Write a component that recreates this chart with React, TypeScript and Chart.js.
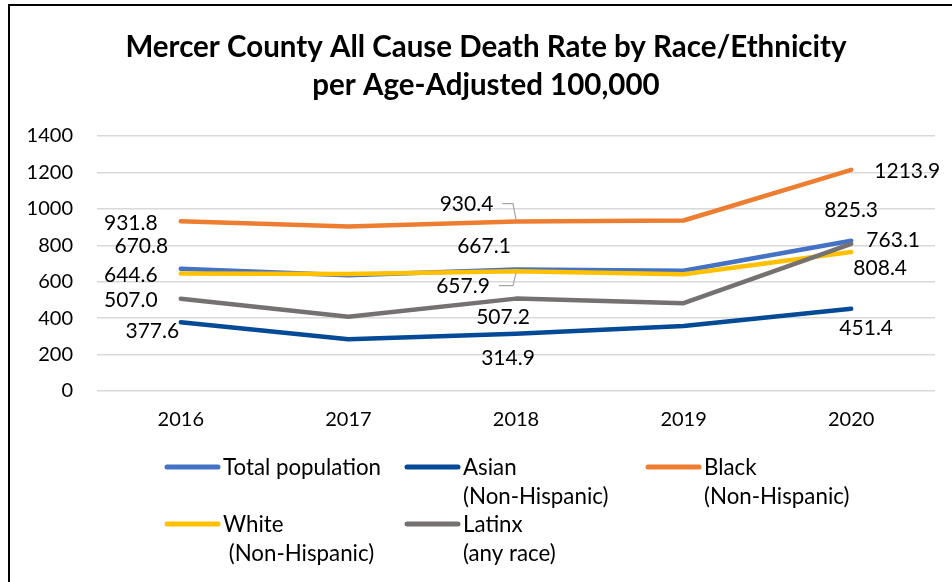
import { useEffect, useRef } from "react";
import { Chart, registerables } from "chart.js";

Chart.register(...registerables);

// ---- data ----
const years = ["2016", "2017", "2018", "2019", "2020"];
const totalPopulation = [670.8, 636, 667.1, 660, 825.3];
const asianNonHispanic = [377.6, 284, 314.9, 357, 451.4];
const blackNonHispanic = [931.8, 903, 930.4, 936, 1213.9];
const whiteNonHispanic = [644.6, 643, 657.9, 641, 763.1];
const latinxAnyRace = [507.0, 408, 507.2, 482, 808.4];
const yTickValues = [0, 200, 400, 600, 800, 1000, 1200, 1400];

const titleLines = [
  "Mercer County All Cause Death Rate by Race/Ethnicity",
  "per Age-Adjusted 100,000",
];

// legend text, one entry per series, split over lines
const seriesNames = [
  ["Total population"],
  ["Asian", "(Non-Hispanic)"],
  ["Black", "(Non-Hispanic)"],
  ["White", " (Non-Hispanic)"],
  ["Latinx", "(any race)"],
];
const seriesColors = ["#4472C4", "#044A96", "#ED7D31", "#FFC000", "#767171"];
const seriesValues = [
  totalPopulation,
  asianNonHispanic,
  blackNonHispanic,
  whiteNonHispanic,
  latinxAnyRace,
];

// ---- layout of value labels: [series, point index, dx, dy, leader line] ----
const labelPlacements: [number, number, number, number, boolean][] = [
  [2, 0, -50, 1.5, false],
  [0, 0, -39.5, -23, false],
  [3, 0, -50, 1, false],
  [4, 0, -50, 1, false],
  [1, 0, -28.5, 8, false],
  [2, 2, -49.5, -18, true],
  [0, 2, -32, -24, false],
  [3, 2, -53, 14.5, true],
  [4, 2, -13, 18, false],
  [1, 2, -8, 23.5, false],
  [2, 4, 56, 1, false],
  [0, 4, 0, -31.5, false],
  [3, 4, 42, -13, false],
  [4, 4, 29, 24, false],
  [1, 4, 15, 18.5, false],
];

// legend grid: column line starts, row centres
const legendCols = [165, 405, 646];
const legendRows = [467, 524];
const legendSlots = [
  [0, 0],
  [1, 0],
  [2, 0],
  [0, 1],
  [1, 1],
];

const FONT = "Lato, 'Open Sans', sans-serif";

const framePlugin = {
  id: "frame",
  beforeDraw(chart: any) {
    const ctx = chart.ctx;
    ctx.save();
    ctx.fillStyle = "#ffffff";
    ctx.fillRect(0, 0, chart.width, chart.height);
    ctx.strokeStyle = "#000000";
    ctx.lineWidth = 2;
    ctx.beginPath();
    ctx.moveTo(9, chart.height);
    ctx.lineTo(9, 5);
    ctx.lineTo(chart.width, 5);
    ctx.stroke();
    ctx.restore();
  },
};

const titlePlugin = {
  id: "twoLineTitle",
  afterDraw(chart: any) {
    const ctx = chart.ctx;
    ctx.save();
    ctx.fillStyle = "#000000";
    ctx.font = `bold 29.5px ${FONT}`;
    ctx.textAlign = "center";
    ctx.textBaseline = "alphabetic";
    titleLines.forEach((line, i) => {
      ctx.fillText(line, 486, 57 + i * 38);
    });
    ctx.restore();
  },
};

const valueLabelPlugin = {
  id: "valueLabels",
  afterDatasetsDraw(chart: any) {
    const ctx = chart.ctx;
    ctx.save();
    ctx.font = `21px ${FONT}`;
    ctx.fillStyle = "#000000";
    ctx.textAlign = "center";
    ctx.textBaseline = "alphabetic";
    for (const [s, i, dx, dy, leader] of labelPlacements) {
      const pt = chart.getDatasetMeta(s).data[i];
      const text = seriesValues[s][i].toFixed(1);
      const cx = pt.x + dx;
      const cy = pt.y + dy;
      ctx.fillText(text, cx, cy + 7.5);
      if (leader) {
        const right = cx + ctx.measureText(text).width / 2;
        ctx.strokeStyle = "#A6A6A6";
        ctx.lineWidth = 1.2;
        ctx.beginPath();
        ctx.moveTo(right + 9, cy);
        ctx.lineTo(pt.x - 3, cy);
        ctx.lineTo(pt.x, pt.y + (dy < 0 ? -2 : 2));
        ctx.stroke();
      }
    }
    ctx.restore();
  },
};

const legendPlugin = {
  id: "gridLegend",
  afterDraw(chart: any) {
    const ctx = chart.ctx;
    ctx.save();
    ctx.font = `22.3px ${FONT}`;
    ctx.fillStyle = "#000000";
    ctx.textAlign = "left";
    ctx.textBaseline = "alphabetic";
    ctx.lineCap = "round";
    seriesNames.forEach((lines, k) => {
      const [c, r] = legendSlots[k];
      const x0 = legendCols[c];
      const y0 = legendRows[r];
      ctx.strokeStyle = seriesColors[k];
      ctx.lineWidth = 5;
      ctx.beginPath();
      ctx.moveTo(x0 + 2, y0);
      ctx.lineTo(x0 + 53, y0);
      ctx.stroke();
      lines.forEach((ln, j) => {
        ctx.fillText(ln, x0 + 58, y0 + 8 + j * 29);
      });
    });
    ctx.restore();
  },
};

export default function App() {
  const canvasRef = useRef<HTMLCanvasElement | null>(null);

  useEffect(() => {
    document.body.style.margin = "0";
    const canvas = canvasRef.current;
    if (!canvas) return;

    const chart = new Chart(canvas, {
      type: "line",
      data: {
        labels: years,
        datasets: seriesValues.map((vals, k) => ({
          label: seriesNames[k].join(" "),
          data: vals,
          borderColor: seriesColors[k],
          backgroundColor: seriesColors[k],
          borderWidth: 4.5,
          borderCapStyle: "round" as const,
          borderJoinStyle: "round" as const,
          pointRadius: 0,
          pointHoverRadius: 0,
          tension: 0,
          fill: false,
          order: 5 - k,
        })),
      },
      options: {
        responsive: false,
        animation: false,
        devicePixelRatio: 1,
        layout: { padding: { top: 136, left: 20, right: 17, bottom: 141 } },
        plugins: {
          legend: { display: false },
          title: { display: false },
          tooltip: { enabled: false },
        },
        scales: {
          x: {
            type: "category",
            offset: true,
            grid: { display: false, drawTicks: false },
            border: { display: false },
            ticks: {
              color: "#000000",
              padding: 17,
              font: { family: FONT, size: 20 },
            },
            afterFit(scale: any) {
              scale.height = 50;
            },
          },
          y: {
            min: 0,
            max: 1400,
            grid: { color: "#D9D9D9", lineWidth: 1.5, drawTicks: false },
            border: { display: false },
            afterBuildTicks(scale: any) {
              scale.ticks = yTickValues.map((v) => ({ value: v }));
            },
            ticks: {
              color: "#000000",
              padding: 24,
              font: { family: FONT, size: 20 },
              callback: (value: any) => String(value),
            },
            afterFit(scale: any) {
              scale.width = 77;
            },
          },
        },
      },
      plugins: [framePlugin, valueLabelPlugin, titlePlugin, legendPlugin],
    });

    return () => chart.destroy();
  }, []);

  return (
    <canvas
      ref={canvasRef}
      width={952}
      height={582}
      style={{ display: "block", width: 952, height: 582 }}
    />
  );
}
